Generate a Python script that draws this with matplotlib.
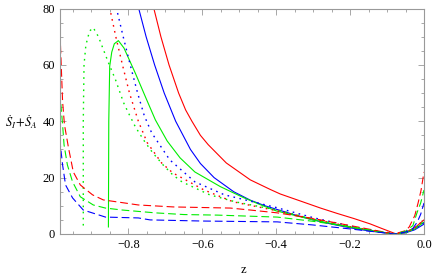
import matplotlib
matplotlib.use('Agg')
import matplotlib.pyplot as plt
from matplotlib.ticker import MultipleLocator

plt.rcParams['font.family'] = ['Liberation Serif', 'DejaVu Serif']
plt.rcParams['mathtext.fontset'] = 'stix'

# solid curves (z, S_dot)
red_solid_z = [-0.732, -0.712, -0.690, -0.664, -0.645, -0.628, -0.605, -0.584, -0.535, -0.47, -0.416,
               -0.389, -0.33, -0.28, -0.235, -0.19, -0.146, -0.115, -0.095, -0.075, -0.05, -0.025, 0.0]
red_solid_y = [80.5, 70, 60, 50, 44, 40, 35, 31.7, 25.2, 19.2, 15.8, 14.2, 11.5, 9.2, 7.3, 5.5, 3.6,
               2, 1, 0.0, 0.6, 2.2, 5]
blue_solid_z = [-0.773, -0.752, -0.729, -0.703, -0.672, -0.632, -0.605, -0.568, -0.515, -0.47, -0.43,
                -0.40, -0.35, -0.3, -0.25, -0.2, -0.15, -0.1, -0.08, -0.05, -0.025, 0.0]
blue_solid_y = [80.5, 70, 60, 50, 40, 30, 25, 20, 15, 12, 10, 8.8, 6.8, 5, 3.5, 2.2, 1.1, 0.3, 0.0,
                0.4, 1.5, 3.5]
green_solid_z = [-0.854, -0.853, -0.8505, -0.845, -0.838, -0.827, -0.812, -0.781, -0.754, -0.727,
                 -0.695, -0.66, -0.62, -0.551, -0.49, -0.445, -0.4, -0.3, -0.2, -0.12, -0.08, -0.05,
                 -0.025, 0.0]
green_solid_y = [2.5, 40, 59.5, 64.5, 67.5, 68.6, 66, 57, 48.7, 40.5, 33, 27, 22, 16.8, 13, 10.5, 8.2,
                 5, 2.4, 0.7, 0.0, 0.5, 1.8, 4.2]

# dotted curves
red_dot_z = [-0.851, -0.834, -0.816, -0.797, -0.773, -0.749, -0.710, -0.68, -0.595, -0.516, -0.4,
             -0.3, -0.2, -0.12, -0.08, -0.05, -0.025, 0.0]
red_dot_y = [80.5, 70, 60, 50, 40, 32.4, 25.2, 21.7, 15.6, 11.4, 8.3, 5.3, 2.6, 0.8, 0.0, 0.6, 2.2, 5]
blue_dot_z = [-0.833, -0.814, -0.795, -0.775, -0.757, -0.737, -0.688, -0.62, -0.54, -0.4,
              -0.3, -0.2, -0.12, -0.08, -0.05, -0.025, 0.0]
blue_dot_y = [80.5, 70, 60, 50, 42, 35.9, 26.3, 18.5, 13.9, 9.4, 5.8, 2.8, 0.8, 0.0, 0.5, 1.8, 4]
green_dot_z = [-0.922, -0.922, -0.920, -0.915, -0.905, -0.895, -0.881, -0.854, -0.835, -0.813, -0.800,
               -0.781, -0.757, -0.734, -0.706, -0.680, -0.655, -0.58, -0.51, -0.397, -0.3, -0.2,
               -0.12, -0.08, -0.05, -0.025, 0.0]
green_dot_y = [3, 40, 60, 67, 72, 73.2, 70, 60.8, 54.8, 46.6, 43, 38, 33, 28.8, 24.5, 21, 18.5, 13.9,
               11.4, 8.5, 5.3, 2.5, 0.7, 0.0, 0.5, 2, 4.5]

# dashed curves
red_dash_z = [-0.9865, -0.984, -0.978, -0.973, -0.962, -0.949, -0.930, -0.897, -0.868, -0.773, -0.678,
              -0.524, -0.47, -0.397, -0.3, -0.2, -0.12, -0.08, -0.05, -0.04, -0.025, -0.016, -0.008, 0.0]
red_dash_y = [90, 68, 47, 38.8, 30.6, 22, 17.4, 13.9, 12.1, 10.3, 9.6, 9.2, 8.5, 7.5, 5.5, 3, 1, 0.0,
              1.2, 2.5, 6.5, 11, 15.5, 22]
green_dash_z = [-0.9865, -0.984, -0.978, -0.974, -0.965, -0.951, -0.930, -0.895, -0.862, -0.816, -0.727,
                -0.65, -0.559, -0.397, -0.3, -0.2, -0.12, -0.08, -0.05, -0.03, -0.019, -0.009, 0.0]
green_dash_y = [85, 48, 38.8, 31.6, 24.5, 18.5, 13.2, 10.3, 9.2, 8.5, 7.5, 6.9, 6.7, 6.0, 4.5, 2.6,
                0.8, 0.0, 1, 3, 7.5, 11, 15.6]
blue_dash_z = [-0.9875, -0.986, -0.984, -0.978, -0.970, -0.951, -0.922, -0.881, -0.862, -0.773, -0.741,
               -0.6, -0.397, -0.3, -0.2, -0.12, -0.08, -0.05, -0.03, -0.018, -0.009, 0.0]
blue_dash_y = [85, 42, 31.6, 24.5, 17.4, 12.8, 8.5, 6.8, 6.0, 5.7, 5.0, 4.6, 4.3, 3.2, 1.8, 0.6, 0.0,
               0.7, 2, 4.3, 7, 11]

RED, GREEN, BLUE = '#ff0000', '#00ee00', '#0000ff'
lw = 0.8

fig = plt.figure(figsize=(4.33, 2.77), dpi=100)
ax = fig.add_axes([60 / 433, 1 - 234 / 277, 364 / 433, 225.5 / 277])

ax.plot(red_solid_z, red_solid_y, color=RED, lw=lw)
ax.plot(blue_solid_z, blue_solid_y, color=BLUE, lw=lw)
ax.plot(green_solid_z, green_solid_y, color=GREEN, lw=lw)

dot = (0, (1.2, 3.2))
ax.plot(red_dot_z, red_dot_y, color=RED, lw=1.0, linestyle=dot)
ax.plot(blue_dot_z, blue_dot_y, color=BLUE, lw=1.0, linestyle=dot)
ax.plot(green_dot_z, green_dot_y, color=GREEN, lw=1.0, linestyle=dot)

dash = (0, (7, 3.5))
ax.plot(red_dash_z, red_dash_y, color=RED, lw=lw, linestyle=dash)
ax.plot(green_dash_z, green_dash_y, color=GREEN, lw=lw, linestyle=dash)
ax.plot(blue_dash_z, blue_dash_y, color=BLUE, lw=lw, linestyle=dash)

ax.set_xlim(-0.985, 0.0)
ax.set_ylim(0, 80)

ax.xaxis.set_major_locator(MultipleLocator(0.2))
ax.xaxis.set_minor_locator(MultipleLocator(0.05))
ax.yaxis.set_major_locator(MultipleLocator(20))
ax.yaxis.set_minor_locator(MultipleLocator(5))
ax.set_xticks([-0.8, -0.6, -0.4, -0.2, 0.0])
ax.set_xticklabels(['\u22120.8', '\u22120.6', '\u22120.4', '\u22120.2', '0.0'])

frame_col = '#999999'
for s in ax.spines.values():
    s.set_color(frame_col)
    s.set_linewidth(0.8)
ax.tick_params(which='both', direction='in', top=True, right=True, color=frame_col,
               labelsize=9, labelcolor='black', width=0.6)
ax.tick_params(which='major', length=4)
ax.tick_params(which='minor', length=2)

fig.text(0.012, 1 - 122 / 277, r'$\dot{S}_I\!+\!\dot{S}_A$', fontsize=9, va='center', ha='left')
fig.text(243 / 433, 1 - 270 / 277, 'z', fontsize=9, va='center', ha='center')

fig.savefig('out.png', dpi=100)
